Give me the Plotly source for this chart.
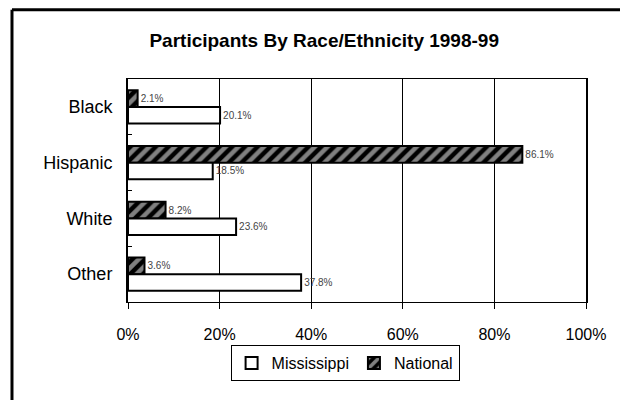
import plotly.graph_objects as go

groups = ['Black', 'Hispanic', 'White', 'Other']
mississippi = [20.1, 18.5, 23.6, 37.8]
national = [2.1, 86.1, 8.2, 3.6]
x_ticks = [0, 20, 40, 60, 80, 100]
x_tick_labels = ['0%', '20%', '40%', '60%', '80%', '100%']

fnt = 'Liberation Sans Narrow, Arial Narrow, Liberation Sans, sans-serif'

fig = go.Figure()
fig.add_trace(go.Bar(
    y=groups, x=national, orientation='h', name='National', legendrank=2,
    marker=dict(color='black', line=dict(color='black', width=2),
                pattern=dict(shape='/', fgcolor='white', bgcolor='black', size=9, solidity=0.5)),
    text=[f'{v}%' for v in national], textposition='outside',
    textfont=dict(size=10, color='#444444', family=fnt), cliponaxis=False))
fig.add_trace(go.Bar(
    y=groups, x=mississippi, orientation='h', name='Mississippi', legendrank=1,
    marker=dict(color='white', line=dict(color='black', width=2)),
    text=[f'{v}%' for v in mississippi], textposition='outside',
    textfont=dict(size=10, color='#444444', family=fnt), cliponaxis=False))

# page body adds an 8px offset, so the figure is 8px smaller than the window
fig.update_layout(
    width=620, height=392,
    margin=dict(l=120, r=42, t=71, b=98),
    paper_bgcolor='white', plot_bgcolor='white',
    font=dict(family=fnt, size=16, color='black'),
    title=dict(text='<b>Participants By Race/Ethnicity 1998-99</b>', x=0.51, xanchor='center',
               y=0.918, yanchor='middle', font=dict(size=19, family=fnt)),
    barmode='group', bargap=0.4, bargroupgap=0,
    showlegend=True,
    legend=dict(orientation='h', x=0.474, xanchor='center', y=-0.193, yanchor='top',
                bordercolor='black', borderwidth=1, font=dict(size=16), traceorder='normal',
                itemwidth=30),
    xaxis=dict(range=[0, 100], tickvals=x_ticks, ticktext=x_tick_labels,
               showgrid=True, gridcolor='black', gridwidth=1,
               showline=True, linecolor='black', linewidth=1, mirror=True,
               ticks='outside', ticklen=6, tickcolor='black', zeroline=False,
               ticklabelstandoff=12),
    yaxis=dict(autorange='reversed', showline=True, linecolor='black', linewidth=2, mirror=True,
               ticks='inside', tickson='boundaries', ticklen=4, tickcolor='black',
               ticklabelstandoff=10, tickfont=dict(size=18)),
    shapes=[
        dict(type='line', xref='paper', yref='paper', x0=-0.2533, x1=-0.2533, y0=1.31, y1=-0.45,
             line=dict(color='black', width=3)),
        dict(type='line', xref='paper', yref='paper', x0=-0.2533, x1=1.1, y0=1.31, y1=1.31,
             line=dict(color='black', width=3)),
    ],
)

fig.write_html('out.html')
